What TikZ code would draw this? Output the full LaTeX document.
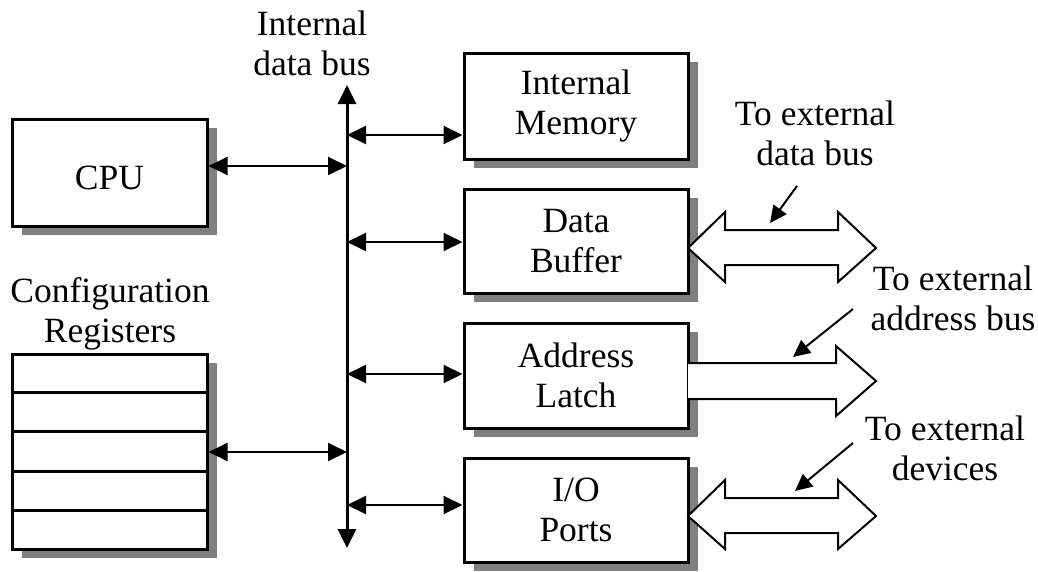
\documentclass[tikz,border=0pt]{standalone}
\usepackage{fontspec}
\setmainfont{Liberation Serif}
\usetikzlibrary{arrows.meta,shadows,calc}
\begin{document}
\begin{tikzpicture}[x=1pt,y=-1pt,
  font=\fontsize{35.5}{40}\selectfont,
  box/.style={draw,line width=3pt,fill=white,align=center,inner sep=0pt,
    drop shadow={shadow xshift=10pt,shadow yshift=-9pt,opacity=1,fill=black!50}},
  link/.style={line width=2pt,{Triangle[length=19pt,width=18pt]}-{Triangle[length=19pt,width=18pt]}},
  busline/.style={line width=3pt,{Triangle[length=19pt,width=18pt]}-{Triangle[length=19pt,width=18pt]}},
  pointer/.style={line width=2pt,-{Triangle[length=17pt,width=16pt]}},
  fat/.style={draw,line width=2pt,fill=white,line join=miter},
  lbl/.style={align=center,inner sep=0pt,anchor=base}]
\useasboundingbox (0,0) rectangle (1038,571);

% boxes
\node[box,minimum width=195pt,minimum height=107pt,text height=33pt,text depth=0pt] (cpu) at (109.5,172.5) {CPU};
\node[box,minimum width=195pt,minimum height=195pt] (regs) at (109.5,451.5) {};
\foreach \f in {0.2,0.4,0.6,0.8}
  \draw[line width=3pt] ($(regs.north west)!\f!(regs.south west)+(1.5,0)$) -- ($(regs.north east)!\f!(regs.south east)+(-1.5,0)$);
\node[box,minimum width=224pt,minimum height=106pt] (im) at (576,106) {Internal\\Memory};
\node[box,minimum width=224pt,minimum height=104pt] (db) at (576,241) {Data\\Buffer};
\node[box,minimum width=224pt,minimum height=105pt] (al) at (576,375.5) {Address\\Latch};
\node[box,minimum width=224pt,minimum height=104pt] (io) at (576,510) {I/O\\Ports};

% labels
\node[lbl] (lbus) at (312,75) {Internal\\data bus};
\node[lbl] (lcfg) at (110,342) {Configuration\\Registers};
\node[lbl] (ldata) at (815,165) {To external\\data bus};
\node[lbl] (laddr) at (953,330) {To external\\address bus};
\node[lbl] (ldev) at (945,480) {To external\\devices};

% internal bus
\coordinate (bustop) at (347,85);
\coordinate (busbot) at (347,548);
\draw[busline] (bustop) -- (busbot);

\draw[link] (cpu.east |- 0,166) -- (bustop |- 0,166);
\draw[link] (regs.east |- 0,452) -- (bustop |- 0,452);
\draw[link] (bustop |- 0,135) -- (im.west |- 0,135);
\draw[link] (bustop |- 0,242) -- (db.west |- 0,242);
\draw[link] (bustop |- 0,374) -- (al.west |- 0,374);
\draw[link] (bustop |- 0,505) -- (io.west |- 0,505);

% wide arrows
\draw[fat] (688,248) -- (725,212) -- (725,230) -- (838,230) -- (838,212) -- (876,248)
  -- (838,282) -- (838,265) -- (725,265) -- (725,282) -- cycle;
\filldraw[fat] (688,363) -- (836,363) -- (836,346) -- (876,381) -- (836,416) -- (836,399) -- (688,399);
\draw[fat] (688,516) -- (725,480) -- (725,498) -- (838,498) -- (838,480) -- (876,516)
  -- (838,549) -- (838,533) -- (725,533) -- (725,549) -- cycle;

% pointers
\coordinate (p1s) at (797,186); \coordinate (p1e) at (770,223);
\coordinate (p2s) at (853,309); \coordinate (p2e) at (793,357);
\coordinate (p3s) at (853,443); \coordinate (p3e) at (795,491);
\draw[pointer] (p1s) -- (p1e);
\draw[pointer] (p2s) -- (p2e);
\draw[pointer] (p3s) -- (p3e);
\end{tikzpicture}
\end{document}
